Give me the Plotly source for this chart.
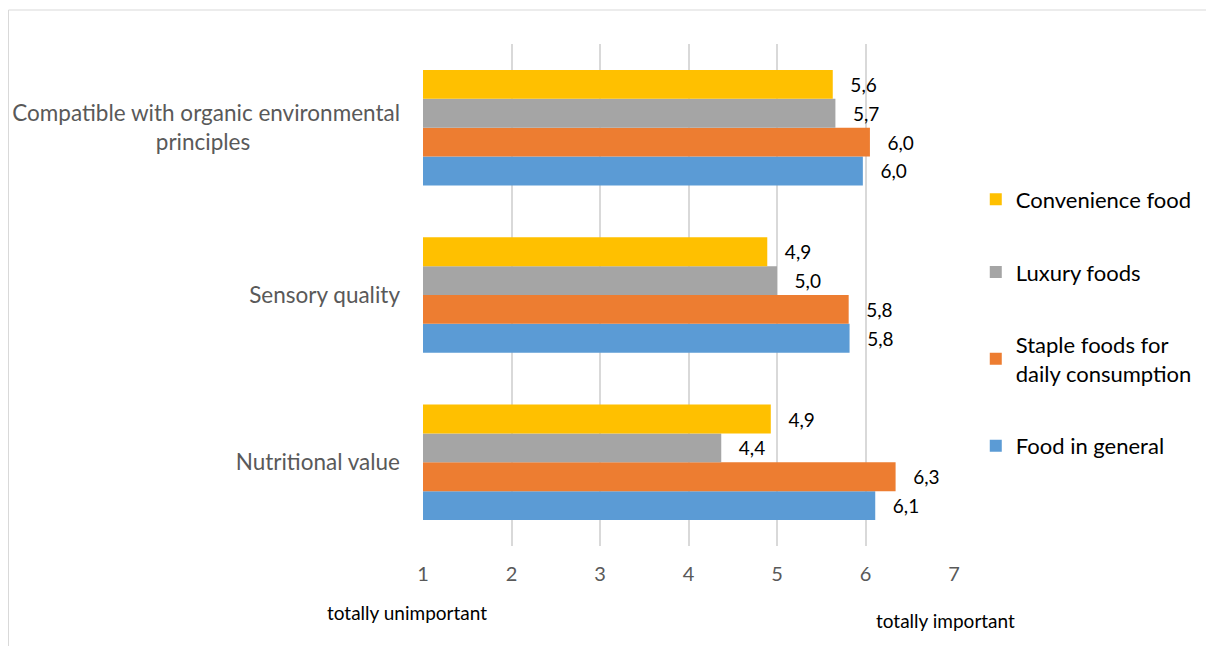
import plotly.graph_objects as go

categories = ["Nutritional value", "Sensory quality", "Compatible with organic environmental principles"]
category_ticktext = [
    "Nutritional value",
    "Sensory quality",
    "Compatible with organic environmental<br>principles" + "\u00a0" * 26,
]
series_names = ["Food in general", "Staple foods for<br>daily consumption", "Luxury foods", "Convenience food"]
legend_ranks = [4, 3, 2, 1]
food_in_general = [6.11, 5.82, 5.97]
staple_foods = [6.34, 5.81, 6.05]
luxury_foods = [4.37, 5.00, 5.66]
convenience_food = [4.93, 4.89, 5.63]
series_values = [food_in_general, staple_foods, luxury_foods, convenience_food]
colors = ["#5b9bd5", "#ed7d31", "#a5a5a5", "#ffc000"]
x_ticks = [1, 2, 3, 4, 5, 6, 7]

FONT = "Lato, Carlito, Calibri, sans-serif"

W, H = 1206, 638
L, R, T, B = 415, 260, 36, 100
PW, PH = W - L - R, H - T - B

fig = go.Figure()
for name, vals, col, rank in zip(series_names, series_values, colors, legend_ranks):
    fig.add_trace(go.Bar(
        y=categories, x=vals, name=name, orientation="h",
        marker=dict(color=col, line=dict(width=0)),
        texttemplate="\u00a0\u00a0\u00a0%{x:.1f}", textposition="outside",
        textfont=dict(family=FONT, size=19, color="#000000"),
        legendgroup=name, legendrank=rank, cliponaxis=False,
    ))

fig.update_layout(
    width=W, height=H,
    barmode="group", bargap=0.31, bargroupgap=0,
    separators=",.",
    paper_bgcolor="white", plot_bgcolor="white",
    margin=dict(l=L, r=R, t=T, b=B, autoexpand=False),
    font=dict(family=FONT, size=19, color="#595959"),
    xaxis=dict(range=[1, 7], tickvals=x_ticks, showgrid=True, gridcolor="#d9d9d9",
               gridwidth=2, zeroline=False, showline=False, automargin=False,
               tickfont=dict(family=FONT, size=20, color="#595959"),
               ticklabelstandoff=14),
    yaxis=dict(tickvals=categories, ticktext=category_ticktext, showgrid=False,
               zeroline=False, showline=False, automargin=False,
               tickfont=dict(family=FONT, size=22.5, color="#595959"),
               ticklabelstandoff=22),
    legend=dict(x=1.041, xanchor="left", y=0.732, yanchor="top",
                traceorder="grouped", tracegroupgap=41,
                font=dict(family=FONT, size=22, color="#000000"),
                itemwidth=30),
    showlegend=True,
)

fig.add_shape(type="rect", xref="paper", yref="paper",
              x0=(0.5 - L) / PW, x1=(W + 20 - L) / PW,
              y0=(PH - (H + 20 - T)) / PH, y1=(PH - (2 - T)) / PH,
              line=dict(color="#d9d9d9", width=1), fillcolor="rgba(0,0,0,0)", layer="below")

fig.add_annotation(text="totally unimportant", xref="paper", yref="paper",
                   x=(399 - L) / PW, y=(538 - 605) / PH, showarrow=False,
                   xanchor="center", yanchor="middle",
                   font=dict(family=FONT, size=19, color="#000000"))
fig.add_annotation(text="totally important", xref="paper", yref="paper",
                   x=(937 - L) / PW, y=(538 - 612) / PH, showarrow=False,
                   xanchor="center", yanchor="middle",
                   font=dict(family=FONT, size=19, color="#000000"))

fig.write_html("out.html")
